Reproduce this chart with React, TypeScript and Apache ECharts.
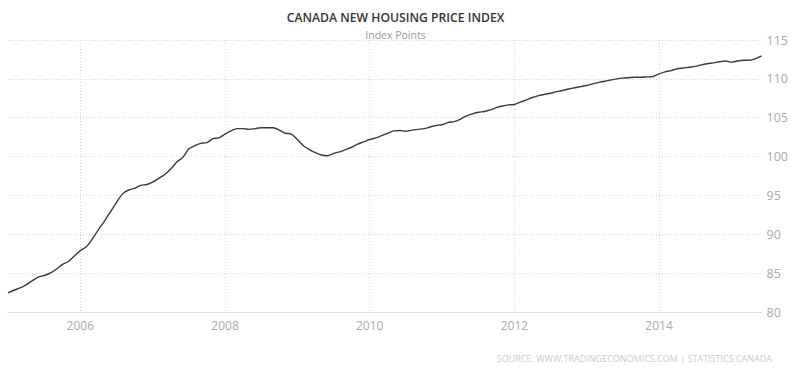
import React, { useEffect, useRef } from "react";
import * as echarts from "echarts";

const startYear = 2005;
const values: number[] = [
  82.45, 82.8, 83.1, 83.5, 84.0, 84.5, 84.7, 85.0, 85.5, 86.1, 86.5, 87.2,
  87.9, 88.4, 89.4, 90.6, 91.7, 92.9, 94.1, 95.2, 95.7, 95.9, 96.3, 96.4,
  96.7, 97.2, 97.7, 98.4, 99.3, 99.9, 101.0, 101.4, 101.7, 101.8, 102.3, 102.4,
  102.9, 103.3, 103.6, 103.6, 103.5, 103.6, 103.7, 103.7, 103.7, 103.4, 103.0, 102.9,
  102.2, 101.4, 100.9, 100.5, 100.2, 100.1, 100.4, 100.6, 100.9, 101.2, 101.6, 101.9,
  102.2, 102.4, 102.7, 103.0, 103.3, 103.35, 103.25, 103.4, 103.5, 103.6, 103.8, 104.0,
  104.1, 104.4, 104.5, 104.8, 105.2, 105.5, 105.7, 105.8, 106.0, 106.3, 106.5, 106.65,
  106.7, 107.0, 107.3, 107.6, 107.85, 108.0, 108.15, 108.35, 108.5, 108.7, 108.85, 109.0,
  109.15, 109.35, 109.55, 109.7, 109.85, 110.0, 110.1, 110.15, 110.2, 110.2, 110.25, 110.3,
  110.65, 110.9, 111.05, 111.3, 111.4, 111.5, 111.6, 111.8, 111.95, 112.05, 112.2, 112.3,
  112.15, 112.3, 112.4, 112.4, 112.6, 112.95,
];
const months: string[] = values.map((_, i) => {
  const y = startYear + Math.floor(i / 12);
  const m = (i % 12) + 1;
  return `${y}-${m < 10 ? "0" + m : m}`;
});
const yTicks = { min: 80, max: 115, interval: 5 };

const title = "CANADA NEW HOUSING PRICE INDEX";
const subtitle = "Index Points";
const source = "SOURCE: WWW.TRADINGECONOMICS.COM | STATISTICS CANADA";

const isMajor = (idx: number) => {
  const v = months[idx];
  if (!v) return false;
  const y = parseInt(v.slice(0, 4), 10);
  return v.endsWith("-01") && y % 2 === 0;
};

export default function App() {
  const ref = useRef<HTMLDivElement>(null);
  useEffect(() => {
    if (!ref.current) return;
    const chart = echarts.init(ref.current, undefined, { renderer: "svg" });
    const font = "'Open Sans', 'DejaVu Sans', sans-serif";
    chart.setOption({
      animation: false,
      textStyle: { fontFamily: font },
      title: [
        {
          text: title,
          left: "center",
          top: 6,
          textStyle: { fontFamily: font, fontSize: 12.2, fontWeight: 600, color: "#333" },
        },
        {
          text: subtitle,
          left: "center",
          top: 24,
          textStyle: { fontFamily: font, fontSize: 10.5, fontWeight: "normal", color: "#999" },
        },
        {
          text: source,
          right: 14,
          top: 349,
          textStyle: { fontFamily: font, fontSize: 9, fontWeight: "normal", color: "#ccc" },
        },
      ],
      grid: { left: 8, right: 29, top: 40, bottom: 55 },
      xAxis: {
        type: "category",
        data: months,
        boundaryGap: false,
        axisLine: { show: true, lineStyle: { color: "#ddd", width: 1 } },
        axisTick: { show: false },
        axisLabel: {
          interval: (idx: number) => isMajor(idx),
          formatter: (v: string) => v.slice(0, 4),
          color: "#aaa",
          fontSize: 12,
          fontFamily: font,
          margin: 7,
        },
        splitLine: {
          show: true,
          interval: (idx: number) => isMajor(idx),
          lineStyle: { color: "#d8d8d8", type: [1, 2], width: 1 },
        },
      },
      yAxis: {
        type: "value",
        position: "right",
        min: yTicks.min,
        max: yTicks.max,
        interval: yTicks.interval,
        axisLine: { show: false },
        axisTick: { show: false },
        axisLabel: { color: "#aaa", fontSize: 12.5, fontFamily: font, margin: 5 },
        splitLine: { show: true, lineStyle: { color: "#d8d8d8", type: [1, 2], width: 1 } },
      },
      series: [
        {
          type: "line",
          data: values,
          showSymbol: false,
          smooth: 0.3,
          lineStyle: { color: "#3a3a3a", width: 1.4 },
        },
      ],
    });
    return () => chart.dispose();
  }, []);
  return (
    <div
      ref={ref}
      style={{ position: "absolute", left: 0, top: 0, width: 791, height: 367 }}
    />
  );
}
